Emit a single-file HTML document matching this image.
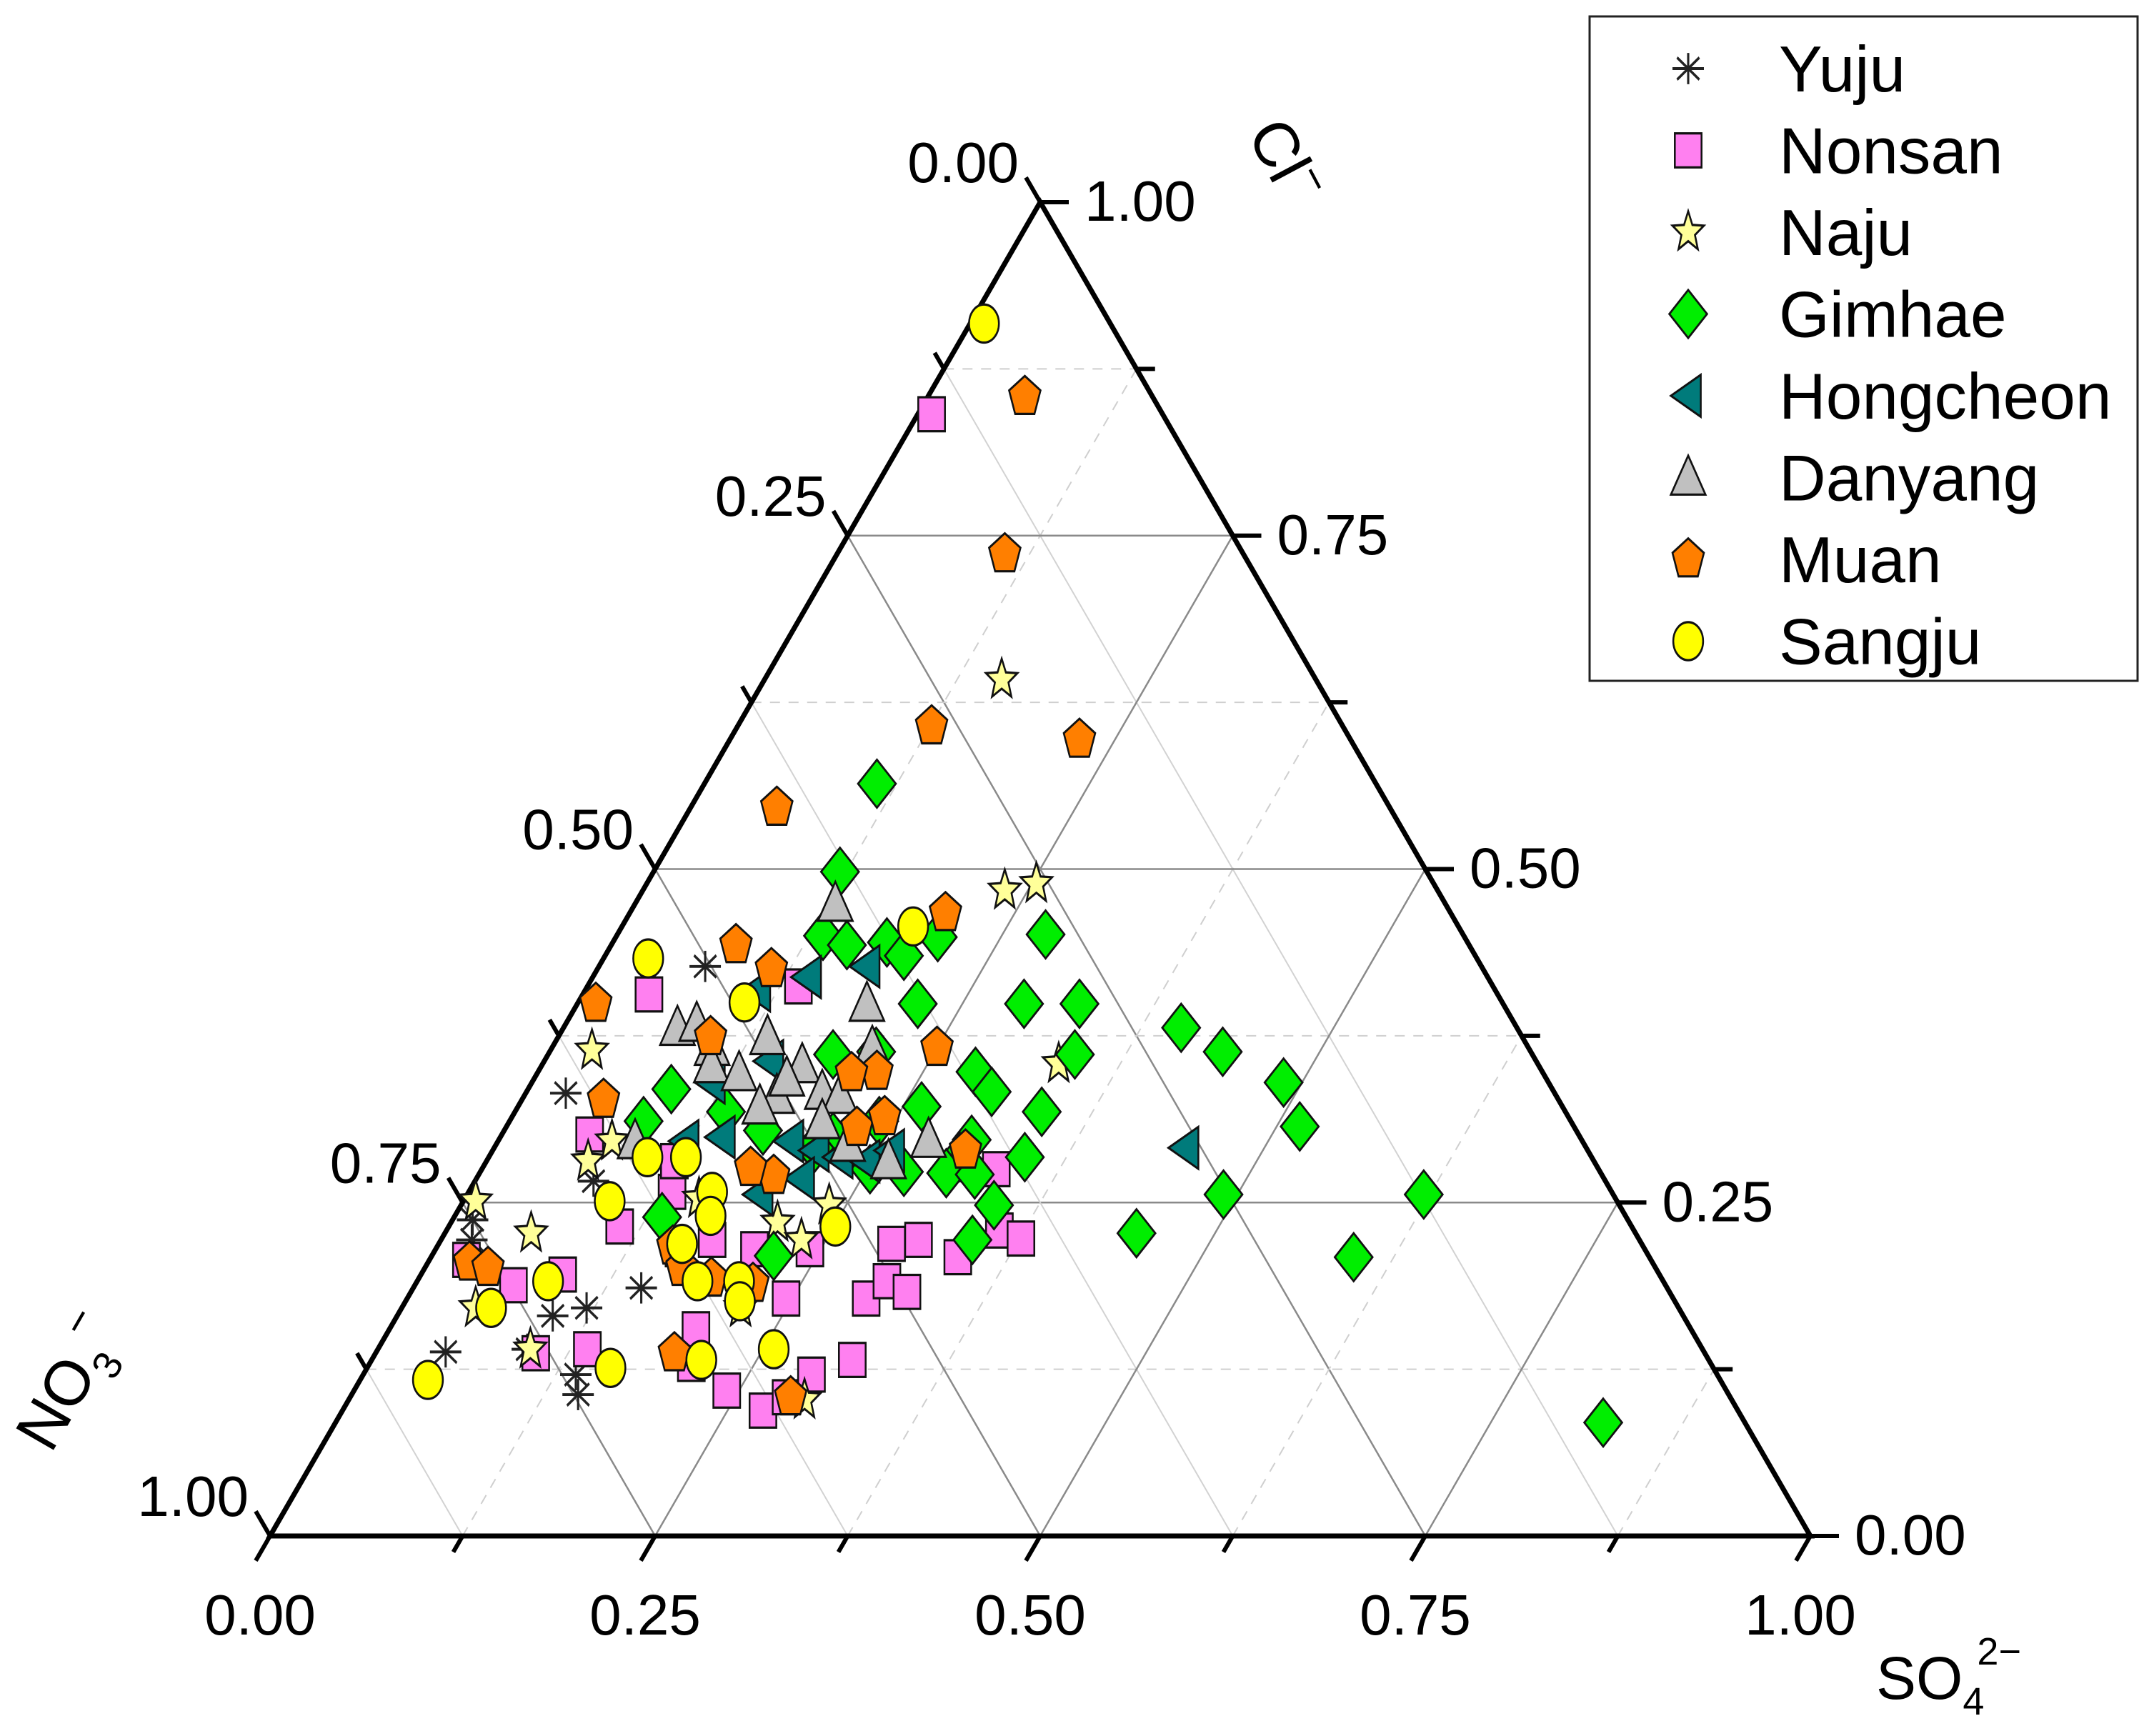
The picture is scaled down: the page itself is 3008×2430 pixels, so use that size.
<!DOCTYPE html>
<html><head><meta charset="utf-8"><style>
html,body{margin:0;padding:0;background:#fff;}
svg{display:block;font-family:"Liberation Sans",Arial,sans-serif;}
</style></head><body>
<svg id="chart" width="3008" height="2430" viewBox="0 0 3008 2430" xmlns="http://www.w3.org/2000/svg">
<g id="grid"></g>
<g id="frame"></g>
<g id="ticks"></g>
<g id="labels" font-size="80" fill="#000"></g>
<g id="marks"></g>
<text x="1790" y="250" font-size="88" transform="rotate(62 1790 230)" text-anchor="middle">Cl<tspan dy="-35" font-size="60">−</tspan></text>
<text x="95" y="1965" font-size="88" transform="rotate(-60 95 1935)" text-anchor="middle">NO<tspan dy="25" font-size="56">3</tspan><tspan dy="-65" font-size="60">−</tspan></text>
<text x="2626" y="2378" font-size="84">SO<tspan dy="22" font-size="54">4</tspan><tspan dy="-70" dx="-10" font-size="54">2−</tspan></text>
<g id="legend">
<rect x="2225" y="23" width="767" height="930" fill="#fff" stroke="#222" stroke-width="3"/>
</g>
</svg>
<script>
const categories = ["Yuju","Nonsan","Naju","Gimhae","Hongcheon","Danyang","Muan","Sangju"];
const tickValues = [0,0.25,0.5,0.75,1];
const tickLabels = ["0.00","0.25","0.50","0.75","1.00"];
// each series: SO4 fraction and Cl fraction (NO3 = 1 - SO4 - Cl)
const yujuSO4 = [0.069,0.026,0.077,0.020,0.148,0.101,0.120,0.045,0.097,0.138,0.147,0.013];
const yujuCl  = [0.427,0.332,0.266,0.222,0.186,0.165,0.171,0.138,0.140,0.121,0.106,0.237];
const nonsanSO4 = [0.009,0.043,0.137,0.057,0.111,0.132,0.092,0.064,0.024,0.104,0.136,0.209,0.242,0.273,0.283,0.291,0.312,0.246,0.207,0.243,0.298,0.305,0.322,0.342,0.294,0.310,0.359,0.376,0.334,0.158,0.176,0.122,0.199];
const nonsanCl  = [0.841,0.406,0.412,0.301,0.232,0.258,0.196,0.188,0.207,0.137,0.140,0.129,0.109,0.094,0.104,0.121,0.132,0.178,0.215,0.215,0.178,0.191,0.183,0.209,0.219,0.222,0.229,0.223,0.275,0.215,0.222,0.281,0.155];
const najuSO4 = [0.154,0.235,0.253,0.335,0.027,0.066,0.008,0.056,0.048,0.099,0.296,0.212,0.234,0.220,0.152,0.074,0.239];
const najuCl  = [0.642,0.484,0.489,0.354,0.364,0.281,0.251,0.227,0.171,0.140,0.102,0.235,0.222,0.171,0.253,0.296,0.248];
const gimhaeSO4 = [0.112,0.121,0.278,0.134,0.153,0.178,0.209,0.194,0.290,0.326,0.221,0.185,0.212,0.342,0.284,0.302,0.401,0.437,0.488,0.515,0.342,0.262,0.307,0.348,0.306,0.252,0.275,0.303,0.322,0.216,0.240,0.168,0.137,0.093,0.087,0.346,0.345,0.491,0.449,0.621,0.599,0.823,0.135,0.222,0.208];
const gimhaeCl  = [0.564,0.498,0.451,0.450,0.443,0.445,0.449,0.435,0.399,0.399,0.399,0.361,0.363,0.361,0.348,0.333,0.381,0.363,0.340,0.307,0.318,0.322,0.297,0.284,0.284,0.275,0.273,0.272,0.271,0.299,0.311,0.304,0.318,0.335,0.311,0.248,0.222,0.256,0.227,0.256,0.209,0.085,0.239,0.210,0.291];
const hongSO4 = [0.140,0.174,0.112,0.147,0.117,0.122,0.144,0.190,0.210,0.228,0.247,0.259,0.190,0.211,0.449];
const hongCl  = [0.419,0.427,0.409,0.356,0.340,0.296,0.299,0.296,0.289,0.284,0.281,0.289,0.256,0.268,0.291];
const danSO4 = [0.130,0.188,0.136,0.074,0.085,0.104,0.110,0.131,0.169,0.192,0.164,0.205,0.157,0.208,0.089,0.203,0.228,0.261,0.279,0.164];
const danCl  = [0.474,0.399,0.374,0.381,0.384,0.366,0.353,0.347,0.353,0.333,0.330,0.330,0.322,0.366,0.296,0.311,0.294,0.281,0.297,0.343];
const muanSO4 = [0.063,0.109,0.126,0.227,0.056,0.205,0.081,0.113,0.012,0.099,0.250,0.053,0.220,0.204,0.228,0.307,0.192,0.174,0.027,0.041,0.153,0.167,0.190,0.219,0.194,0.286,0.242];
const muanCl  = [0.854,0.736,0.607,0.597,0.546,0.467,0.443,0.425,0.399,0.374,0.366,0.327,0.348,0.347,0.306,0.289,0.270,0.276,0.205,0.201,0.217,0.201,0.193,0.189,0.137,0.104,0.314];
const sangSO4 = [0.009,0.029,0.189,0.108,0.095,0.103,0.128,0.158,0.166,0.158,0.182,0.209,0.217,0.085,0.058,0.158,0.214,0.257,0.251,0.044];
const sangCl  = [0.909,0.433,0.457,0.400,0.251,0.284,0.284,0.258,0.240,0.219,0.191,0.191,0.176,0.191,0.171,0.126,0.132,0.140,0.232,0.117];

const NS="http://www.w3.org/2000/svg";
const BL=[378,2150], BR=[2534,2150], TP=[1456,283];
function pt(s,c){const n=1-s-c;return [s*BR[0]+n*BL[0]+c*TP[0], s*BR[1]+n*BL[1]+c*TP[1]];}
function mk(tag,attrs,parent){const e=document.createElementNS(NS,tag);for(const k in attrs)e.setAttribute(k,attrs[k]);parent.appendChild(e);return e;}
const grid=document.getElementById('grid'), frame=document.getElementById('frame'), ticks=document.getElementById('ticks'), labels=document.getElementById('labels'), marks=document.getElementById('marks');

for(let i=1;i<8;i++){
  const v=i/8, major=(i%2===0);
  let a=pt(v,0), b=pt(v,1-v);
  let l=mk('line',{x1:a[0],y1:a[1],x2:b[0],y2:b[1],stroke:major?'#8a8a8a':'#cfcfcf','stroke-width':major?2.5:2,'stroke-dasharray':major?'none':'14 12'},grid);
  
  
  a=pt(0,v); b=pt(1-v,v);
  l=mk('line',{x1:a[0],y1:a[1],x2:b[0],y2:b[1],stroke:major?'#8a8a8a':'#cfcfcf','stroke-width':major?2.5:2,'stroke-dasharray':major?'none':'14 12'},grid);
  
  
  a=pt(1-v,0); b=pt(0,1-v);
  l=mk('line',{x1:a[0],y1:a[1],x2:b[0],y2:b[1],stroke:major?'#8a8a8a':'#d2d2d2','stroke-width':major?2.5:2},grid);
  
  
}
const tri=mk('polygon',{points:`${BL} ${BR} ${TP}`,fill:'none',stroke:'#000','stroke-width':7,'stroke-linejoin':'miter'},frame);



const ux=(BL[0]-TP[0])/2156, uy=(BL[1]-TP[1])/2156;
for(let i=0;i<=8;i++){
  const v=i/8, len=(i%2===0)?40:26;
  let p=pt(v,0);
  let t=mk('line',{x1:p[0],y1:p[1],x2:p[0]+ux*len,y2:p[1]+uy*len,stroke:'#000','stroke-width':6},ticks);
  
  
  p=pt(0,1-v);
  t=mk('line',{x1:p[0],y1:p[1],x2:p[0]+ux*len,y2:p[1]-uy*len,stroke:'#000','stroke-width':6},ticks);
  
  
  p=pt(1-v,v);
  t=mk('line',{x1:p[0],y1:p[1],x2:p[0]+len*1.0,y2:p[1],stroke:'#000','stroke-width':6},ticks);
  
  
}
tickValues.forEach((v,i)=>{
  let p=pt(v,0);
  let t=mk('text',{x:p[0]-14,y:2288,'text-anchor':'middle'},labels); t.textContent=tickLabels[i];
  
  
  p=pt(0,1-v);
  t=mk('text',{x:p[0]-30,y:p[1]-28,'text-anchor':'end'},labels); t.textContent=tickLabels[i];
  
  
  p=pt(1-v,v);
  t=mk('text',{x:p[0]+62,y:p[1]+26,'text-anchor':'start'},labels); t.textContent=tickLabels[i];
  
  
});

function marker(type,x,y,parent){
  const g=mk('g',{transform:`translate(${x},${y}) scale(1.1,1.4)`},parent);
  const st={stroke:'#111','stroke-width':2.3};
  if(type==='asterisk'){
    for(const a of [0,45,90,135]){const r=a*Math.PI/180;mk('line',{x1:-20*Math.cos(r),y1:-20*Math.sin(r)/1.28,x2:20*Math.cos(r),y2:20*Math.sin(r)/1.28,stroke:'#222','stroke-width':2.8},g);}
  } else if(type==='square'){
    mk('rect',Object.assign({x:-17,y:-17,width:34,height:34,fill:'#ff80f0'},st),g);
  } else if(type==='star'){
    let pts=[];for(let k=0;k<10;k++){const r=(k%2?9:21),a=-Math.PI/2+k*Math.PI/5;pts.push((r*Math.cos(a)).toFixed(1)+','+(r*Math.sin(a)).toFixed(1));}
    mk('polygon',Object.assign({points:pts.join(' '),fill:'#ffff99'},st),g);
  } else if(type==='diamond'){
    mk('polygon',Object.assign({points:'0,-24 24,0 0,24 -24,0',fill:'#00ee00'},st),g);
  } else if(type==='left'){
    mk('polygon',Object.assign({points:'-22,0 16,-21 16,21',fill:'#007b7b'},st),g);
  } else if(type==='up'){
    mk('polygon',Object.assign({points:'0,-22 22,17 -22,17',fill:'#c0c0c0'},st),g);
  } else if(type==='pent'){
    let pts=[];for(let k=0;k<5;k++){const a=-Math.PI/2+k*2*Math.PI/5;pts.push((21*Math.cos(a)).toFixed(1)+','+(21*Math.sin(a)).toFixed(1));}
    mk('polygon',Object.assign({points:pts.join(' '),fill:'#ff7f00'},st),g);
  } else if(type==='circle'){
    mk('circle',Object.assign({cx:0,cy:0,r:19,fill:'#ffff00'},st),g);
  }
  return g;
}
const seriesSO4=[yujuSO4,nonsanSO4,najuSO4,gimhaeSO4,hongSO4,danSO4,muanSO4,sangSO4];
const seriesCl=[yujuCl,nonsanCl,najuCl,gimhaeCl,hongCl,danCl,muanCl,sangCl];
const types=['asterisk','square','star','diamond','left','up','pent','circle'];
categories.forEach((name,si)=>{
  const sg=mk('g',{},marks);
  
  
  seriesSO4[si].forEach((s,j)=>{
    const p=pt(s,seriesCl[si][j]);
    const m=marker(types[si],p[0],p[1],sg);
    
    
  });
});
const legend=document.getElementById('legend');
categories.forEach((name,i)=>{
  const cy=96+i*114.5;
  const m=marker(types[i],2363,cy,legend);
  
  
  const t=mk('text',{x:2490,y:cy+32,'font-size':91},legend);
  t.textContent=name;
  
  
});
</script>
</body></html>
